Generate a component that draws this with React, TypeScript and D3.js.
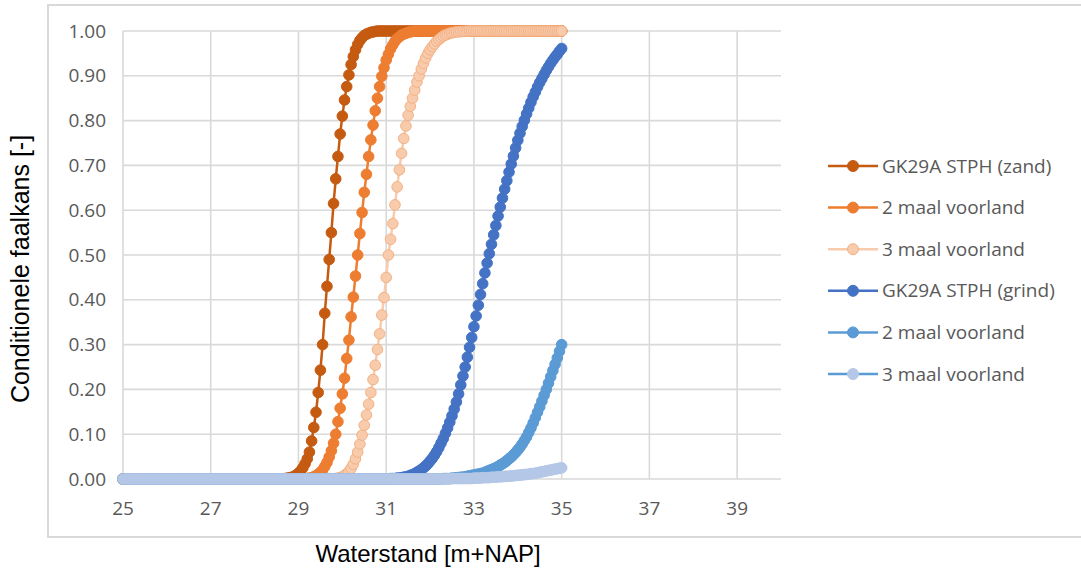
import React from "react";
import * as d3 from "d3";

// Water levels run from 25.00 to 35.00 m+NAP in steps of 0.05 m (201 points per series).
const LEVEL_START = 25;
const LEVEL_STEP = 0.05;

const xTicks = [25, 27, 29, 31, 33, 35, 37, 39];
const yTicks = [0, 0.1, 0.2, 0.3, 0.4, 0.5, 0.6, 0.7, 0.8, 0.9, 1.0];

// GK29A STPH (zand)
const zandHuidig = [
  0,0,0,0,0,0,0,0,0,0, 0,0,0,0,0,0,0,0,0,0, // 25
  0,0,0,0,0,0,0,0,0,0, 0,0,0,0,0,0,0,0,0,0, // 26
  0,0,0,0,0,0,0,0,0,0, 0,0,0,0,0,0,0,0,0,0, // 27
  0,0,0,0,0,0,0,0,0,0, 0,0,0,0,0.001,0.002,0.003,0.004,0.006,0.009, // 28
  0.013,0.018,0.025,0.034,0.045,0.06,0.085,0.115,0.149,0.193, 0.243,0.3,0.37,0.43,0.49,0.55,0.615,0.67,0.72,0.77, // 29
  0.81,0.846,0.876,0.902,0.925,0.943,0.958,0.97,0.979,0.985, 0.99,0.993,0.995,0.997,0.998,0.999,1,1,1,1, // 30
  1,1,1,1,1,1,1,1,1,1, 1,1,1,1,1,1,1,1,1,1, // 31
  1,1,1,1,1,1,1,1,1,1, 1,1,1,1,1,1,1,1,1,1, // 32
  1,1,1,1,1,1,1,1,1,1, 1,1,1,1,1,1,1,1,1,1, // 33
  1,1,1,1,1,1,1,1,1,1, 1,1,1,1,1,1,1,1,1,1, // 34
  1, // 35
];

// 2 maal voorland (zand)
const zandVoorland2 = [
  0,0,0,0,0,0,0,0,0,0, 0,0,0,0,0,0,0,0,0,0, // 25
  0,0,0,0,0,0,0,0,0,0, 0,0,0,0,0,0,0,0,0,0, // 26
  0,0,0,0,0,0,0,0,0,0, 0,0,0,0,0,0,0,0,0,0, // 27
  0,0,0,0,0,0,0,0,0,0, 0,0,0,0,0,0,0,0,0,0, // 28
  0,0,0,0,0.001,0.002,0.003,0.005,0.007,0.011, 0.015,0.02,0.028,0.037,0.049,0.063,0.08,0.1,0.128,0.158, // 29
  0.19,0.225,0.269,0.31,0.362,0.406,0.453,0.5,0.548,0.595, 0.64,0.68,0.72,0.757,0.79,0.822,0.85,0.876,0.899,0.918, // 30
  0.935,0.948,0.96,0.969,0.977,0.983,0.987,0.991,0.993,0.995, 0.997,0.998,0.999,1,1,1,1,1,1,1, // 31
  1,1,1,1,1,1,1,1,1,1, 1,1,1,1,1,1,1,1,1,1, // 32
  1,1,1,1,1,1,1,1,1,1, 1,1,1,1,1,1,1,1,1,1, // 33
  1,1,1,1,1,1,1,1,1,1, 1,1,1,1,1,1,1,1,1,1, // 34
  1, // 35
];

// 3 maal voorland (zand)
const zandVoorland3 = [
  0,0,0,0,0,0,0,0,0,0, 0,0,0,0,0,0,0,0,0,0, // 25
  0,0,0,0,0,0,0,0,0,0, 0,0,0,0,0,0,0,0,0,0, // 26
  0,0,0,0,0,0,0,0,0,0, 0,0,0,0,0,0,0,0,0,0, // 27
  0,0,0,0,0,0,0,0,0,0, 0,0,0,0,0,0,0,0,0,0, // 28
  0,0,0,0,0,0,0,0,0,0, 0,0,0,0,0,0,0,0.001,0.002,0.003, // 29
  0.005,0.008,0.012,0.017,0.024,0.033,0.045,0.06,0.078,0.098, 0.12,0.143,0.167,0.193,0.222,0.254,0.289,0.324,0.366,0.405, // 30
  0.45,0.5,0.535,0.57,0.612,0.652,0.69,0.727,0.76,0.788, 0.812,0.832,0.85,0.868,0.886,0.9,0.915,0.928,0.94,0.95, // 31
  0.958,0.965,0.971,0.977,0.981,0.985,0.989,0.991,0.993,0.995, 0.996,0.997,0.998,0.998,0.999,0.999,0.999,1,1,1, // 32
  1,1,1,1,1,1,1,1,1,1, 1,1,1,1,1,1,1,1,1,1, // 33
  1,1,1,1,1,1,1,1,1,1, 1,1,1,1,1,1,1,1,1,1, // 34
  1, // 35
];

// GK29A STPH (grind)
const grindHuidig = [
  0,0,0,0,0,0,0,0,0,0, 0,0,0,0,0,0,0,0,0,0, // 25
  0,0,0,0,0,0,0,0,0,0, 0,0,0,0,0,0,0,0,0,0, // 26
  0,0,0,0,0,0,0,0,0,0, 0,0,0,0,0,0,0,0,0,0, // 27
  0,0,0,0,0,0,0,0,0,0, 0,0,0,0,0,0,0,0,0,0, // 28
  0,0,0,0,0,0,0,0,0,0, 0,0,0,0,0,0,0,0,0,0, // 29
  0,0,0,0,0,0,0,0,0,0, 0,0,0,0,0,0,0,0,0,0, // 30
  0,0,0.001,0.001,0.001,0.002,0.002,0.003,0.004,0.005, 0.006,0.008,0.01,0.012,0.015,0.018,0.021,0.025,0.029,0.034, // 31
  0.04,0.046,0.053,0.061,0.07,0.08,0.09,0.102,0.114,0.127, 0.141,0.156,0.172,0.19,0.21,0.23,0.25,0.272,0.294,0.316, // 32
  0.34,0.364,0.388,0.412,0.436,0.46,0.482,0.503,0.524,0.545, 0.566,0.587,0.607,0.627,0.647,0.666,0.685,0.703,0.721,0.739, // 33
  0.756,0.772,0.787,0.801,0.815,0.828,0.841,0.853,0.864,0.875, 0.885,0.894,0.903,0.912,0.92,0.928,0.935,0.942,0.948,0.955, // 34
  0.961, // 35
];

// 2 maal voorland (grind)
const grindVoorland2 = [
  0,0,0,0,0,0,0,0,0,0, 0,0,0,0,0,0,0,0,0,0, // 25
  0,0,0,0,0,0,0,0,0,0, 0,0,0,0,0,0,0,0,0,0, // 26
  0,0,0,0,0,0,0,0,0,0, 0,0,0,0,0,0,0,0,0,0, // 27
  0,0,0,0,0,0,0,0,0,0, 0,0,0,0,0,0,0,0,0,0, // 28
  0,0,0,0,0,0,0,0,0,0, 0,0,0,0,0,0,0,0,0,0, // 29
  0,0,0,0,0,0,0,0,0,0, 0,0,0,0,0,0,0,0,0,0, // 30
  0,0,0,0,0,0,0,0,0,0, 0,0,0,0,0,0,0,0,0,0, // 31
  0,0,0,0,0,0,0.001,0.001,0.001,0.001, 0.002,0.002,0.003,0.003,0.004,0.004,0.005,0.006,0.007,0.008, // 32
  0.009,0.01,0.011,0.012,0.013,0.015,0.017,0.019,0.021,0.023, 0.025,0.028,0.031,0.034,0.037,0.041,0.045,0.049,0.054,0.059, // 33
  0.065,0.071,0.078,0.086,0.094,0.104,0.114,0.125,0.137,0.149, 0.161,0.174,0.187,0.2,0.214,0.228,0.242,0.256,0.27,0.285, // 34
  0.3, // 35
];

// 3 maal voorland (grind)
const grindVoorland3 = [
  0,0,0,0,0,0,0,0,0,0, 0,0,0,0,0,0,0,0,0,0, // 25
  0,0,0,0,0,0,0,0,0,0, 0,0,0,0,0,0,0,0,0,0, // 26
  0,0,0,0,0,0,0,0,0,0, 0,0,0,0,0,0,0,0,0,0, // 27
  0,0,0,0,0,0,0,0,0,0, 0,0,0,0,0,0,0,0,0,0, // 28
  0,0,0,0,0,0,0,0,0,0, 0,0,0,0,0,0,0,0,0,0, // 29
  0,0,0,0,0,0,0,0,0,0, 0,0,0,0,0,0,0,0,0,0, // 30
  0,0,0,0,0,0,0,0,0,0, 0,0,0,0,0,0,0,0,0,0, // 31
  0,0,0,0,0,0,0,0,0,0, 0.001,0.001,0.001,0.001,0.001,0.001,0.001,0.001,0.001,0.001, // 32
  0.002,0.002,0.002,0.002,0.003,0.003,0.003,0.003,0.004,0.004, 0.004,0.005,0.005,0.005,0.006,0.006,0.006,0.007,0.007,0.008, // 33
  0.008,0.009,0.009,0.01,0.01,0.011,0.012,0.012,0.013,0.014, 0.015,0.016,0.017,0.018,0.019,0.02,0.021,0.022,0.023,0.024, // 34
  0.025, // 35
];

const seriesNames = [
  "GK29A STPH (zand)",
  "2 maal voorland",
  "3 maal voorland",
  "GK29A STPH (grind)",
  "2 maal voorland",
  "3 maal voorland",
];
const seriesValues = [zandHuidig, zandVoorland2, zandVoorland3, grindHuidig, grindVoorland2, grindVoorland3];
const lineColors = ["#c55a11", "#ed7d31", "#f8cbad", "#4472c4", "#5b9bd5", "#5b9bd5"];
const markerFills = ["#c55a11", "#ed7d31", "#f8cbad", "#4472c4", "#5b9bd5", "#b4c7e7"];
const markerStrokes = ["#c55a11", "#ed7d31", "#f4b183", "#4472c4", "#5b9bd5", "#b4c7e7"];

const W = 1081;
const H = 569;
const plot = { left: 123, right: 781, top: 31, bottom: 479 };

export default function App() {
  const x = d3.scaleLinear().domain([25, 40]).range([plot.left, plot.right]);
  const y = d3.scaleLinear().domain([0, 1]).range([plot.bottom, plot.top]);
  const level = (i: number) => LEVEL_START + i * LEVEL_STEP;
  const line = d3
    .line<number>()
    .x((_, i) => x(level(i)))
    .y((d) => y(d));

  const tickFont = "'Open Sans', sans-serif";
  const titleFont = "'Liberation Sans', Arial, sans-serif";
  const grid = "#d9d9d9";
  const r = 5.3;

  const legendX = 828;
  const legendY0 = 166;
  const legendDy = 41.6;

  return (
    <svg
      width={W}
      height={H}
      style={{ position: "fixed", left: 0, top: 0, background: "#fff" }}
    >
      <rect x={48} y={5} width={1060} height={532} fill="#fff" stroke={grid} strokeWidth={2} />

      {/* gridlines */}
      {yTicks.map((t) => (
        <line key={"gy" + t} x1={plot.left} x2={plot.right} y1={y(t)} y2={y(t)} stroke={grid} strokeWidth={1.6} />
      ))}
      {xTicks.map((t) => (
        <line key={"gx" + t} x1={x(t)} x2={x(t)} y1={plot.top} y2={plot.bottom} stroke={grid} strokeWidth={1.6} />
      ))}

      {/* tick labels */}
      {yTicks.map((t) => (
        <text
          key={"ly" + t}
          x={106}
          y={y(t)}
          dy="0.35em"
          textAnchor="end"
          fontFamily={tickFont}
          fontSize={19}
          fill="#595959"
        >
          {d3.format(".2f")(t)}
        </text>
      ))}
      {xTicks.map((t) => (
        <text
          key={"lx" + t}
          x={x(t)}
          y={515}
          textAnchor="middle"
          fontFamily={tickFont}
          fontSize={19}
          fill="#595959"
        >
          {t}
        </text>
      ))}

      {/* series */}
      {seriesValues.map((vals, s) => (
        <g key={"s" + s}>
          <path d={line(vals) ?? ""} fill="none" stroke={lineColors[s]} strokeWidth={2.5} />
          {vals.map((v, i) => (
            <circle
              key={i}
              cx={x(level(i))}
              cy={y(v)}
              r={r}
              fill={markerFills[s]}
              stroke={markerStrokes[s]}
              strokeWidth={1}
            />
          ))}
        </g>
      ))}

      {/* legend */}
      {seriesNames.map((name, s) => {
        const ly = legendY0 + s * legendDy;
        return (
          <g key={"lg" + s}>
            <line x1={legendX} x2={legendX + 50} y1={ly} y2={ly} stroke={lineColors[s]} strokeWidth={2.5} />
            <circle cx={legendX + 25} cy={ly} r={5.5} fill={markerFills[s]} stroke={markerStrokes[s]} strokeWidth={1} />
            <text x={legendX + 54} y={ly} dy="0.35em" fontFamily={tickFont} fontSize={19} fill="#595959">
              {name}
            </text>
          </g>
        );
      })}

      {/* axis titles */}
      <text
        x={428}
        y={562}
        textAnchor="middle"
        fontFamily={titleFont}
        fontSize={24}
        fill="#000"
      >
        Waterstand [m+NAP]
      </text>
      <text
        transform={`translate(29, ${269}) rotate(-90)`}
        textAnchor="middle"
        fontFamily={titleFont}
        fontSize={25}
        fill="#000"
      >
        Conditionele faalkans [-]
      </text>
    </svg>
  );
}
